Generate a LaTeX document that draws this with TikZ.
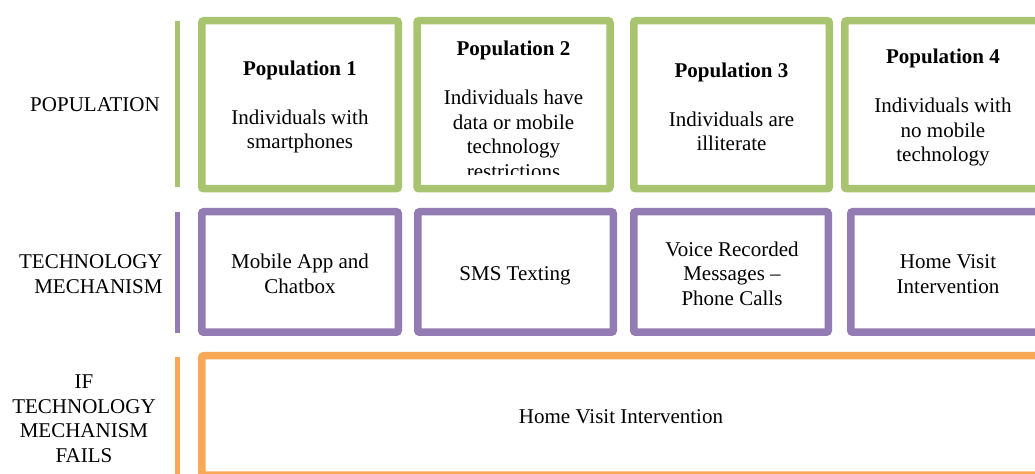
\documentclass[tikz,border=0pt]{standalone}
\usepackage{fontspec}
\setmainfont{Liberation Serif}
\usepackage{tikz}
\definecolor{popgreen}{HTML}{A9C470}
\definecolor{techpurple}{HTML}{937BB3}
\definecolor{failorange}{HTML}{F9A857}

\begin{document}
\begin{tikzpicture}[x=0.5pt,y=-0.5pt,
    every node/.style={font=\fontsize{10.5}{12.25}\selectfont,align=center,inner sep=0pt},
    rowbox/.style={draw=#1,line width=3.75pt,rounded corners=1pt,fill=white},
    sidebar/.style={draw=#1,line width=2.5pt}]
                  \clip (0,0) rectangle (1035,474);

                  % Side bars
                  \draw[sidebar=popgreen] (177.5,21) -- (177.5,187);
                  \draw[sidebar=techpurple] (177.5,212) -- (177.5,333);
                  \draw[sidebar=failorange] (177.5,357) -- (177.5,480);

                  % Row labels
                  \node (poplbl) at (95,105) {POPULATION};
                  \node[align=right,anchor=east] (techlbl) at (163,274)
                      {TECHNOLOGY\\MECHANISM};
                  \node (faillbl) at (84,418.5)
                      {IF\\TECHNOLOGY\\MECHANISM\\FAILS};

                  % Population boxes
                  \node[rowbox=popgreen,minimum width=98.25pt,minimum height=84pt]
                      (pop1) at (300,104.75) {};
                  \node[rowbox=popgreen,minimum width=96.5pt,minimum height=84pt]
                      (pop2) at (513.5,104.75) {};
                  \node[rowbox=popgreen,minimum width=97.75pt,minimum height=84pt]
                      (pop3) at (731.5,104.75) {};
                  \node[rowbox=popgreen,minimum width=98pt,minimum height=84pt]
                      (pop4) at (942.75,104.75) {};

                  \node (pop1txt) at (300,107)
                      {\textbf{Population 1}\\[12.25pt]Individuals with\\smartphones};
                  \begin{scope}
                      \clip (417,20.75) rectangle (610,175);
                      \node (pop2txt) at (513.5,110)
                          {\textbf{Population 2}\\[12.25pt]Individuals have\\data or mobile\\technology\\restrictions};
                  \end{scope}
                  \node (pop3txt) at (731.5,107)
                      {\textbf{Population 3}\\[12.25pt]Individuals are\\illiterate};
                  \node (pop4txt) at (943,107.5)
                      {\textbf{Population 4}\\[12.25pt]Individuals with\\no mobile\\technology};

                  % Technology boxes
                  \node[rowbox=techpurple,minimum width=98.25pt,minimum height=60.25pt]
                      (tech1) at (300,272) {};
                  \node[rowbox=techpurple,minimum width=97.75pt,minimum height=60.25pt]
                      (tech2) at (515.5,272) {};
                  \node[rowbox=techpurple,minimum width=97.25pt,minimum height=60.25pt]
                      (tech3) at (731,272) {};
                  \node[rowbox=techpurple,minimum width=98pt,minimum height=60.25pt]
                      (tech4) at (948.75,272) {};

                  \node (tech1txt) at (300,274) {Mobile App and\\Chatbox};
                  \node (tech2txt) at (515,275.5) {SMS Texting};
                  \node (tech3txt) at (732,273.5) {Voice Recorded\\Messages --\\Phone Calls};
                  \node (tech4txt) at (948,274) {Home Visit\\Intervention};

                  % Fallback box
                  \node[rowbox=failorange,minimum width=419.25pt,minimum height=59.75pt]
                      (fail) at (621,415.5) {};
                  \node (failtxt) at (621,417) {Home Visit Intervention};
              \end{tikzpicture}
\end{document}
